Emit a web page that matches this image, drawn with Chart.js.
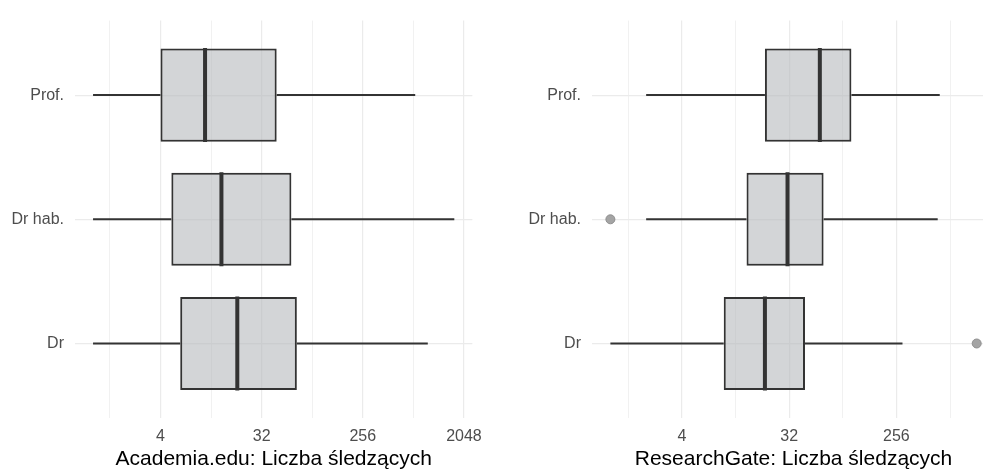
<!DOCTYPE html>
<html>
<head>
<meta charset="utf-8">
<script src="https://cdn.jsdelivr.net/npm/chart.js@4/dist/chart.umd.min.js"></script>
<style>
  html, body { margin: 0; padding: 0; background: #fff; overflow: hidden; }
  #wrap { position: relative; width: 983px; height: 471px; overflow: hidden; }
  .panel { position: absolute; top: 0; height: 471px; }
  #left { left: 0; width: 491px; }
  #right { left: 491px; width: 504px; }
</style>
</head>
<body>
<div id="wrap">
  <div class="panel" id="left"><canvas id="acChart"></canvas></div>
  <div class="panel" id="right"><canvas id="rgChart"></canvas></div>
</div>
<script>
// y positions: 0 = Dr (bottom), 1 = Dr hab., 2 = Prof. (top)
const categories = ["Dr", "Dr hab.", "Prof."];

const majorTicks = [4, 32, 256, 2048];
const minorTicks = [1.414, 11.31, 90.51, 724.1];

// Academia.edu
const acMin = [1, 1, 1];
const acQ1 = [6, 5, 4];
const acMedian = [19.4, 14, 10];
const acQ3 = [66, 59, 43.6];
const acMax = [974, 1680, 752];
const acOutlierX = [];
const acOutlierY = [];

// ResearchGate
const rgMin = [1, 2, 2];
const rgQ1 = [9, 14, 20];
const rgMedian = [20, 31, 58];
const rgQ3 = [43.5, 62.4, 107];
const rgMax = [288, 570, 593];
const rgOutlierX = [1214, 1];
const rgOutlierY = [0, 1];

const FONT = "'Liberation Sans', Arial, Helvetica, sans-serif";
const GRID = "#ebebeb";
const INK = "#333333";

function makePanel(canvasId, p) {
  const boxes = categories.map((_, i) => ({ x: [p.q1[i], p.q3[i]], y: i }));
  const medians = categories.map((_, i) => ({ x: p.median[i], y: i }));
  const whiskers = [];
  categories.forEach((_, i) => {
    whiskers.push({ x: p.min[i], y: i }, { x: p.q1[i], y: i }, { x: null, y: i });
    whiskers.push({ x: p.q3[i], y: i }, { x: p.max[i], y: i }, { x: null, y: i });
  });
  const outliers = p.outX.map((v, i) => ({ x: v, y: p.outY[i] }));

  return new Chart(document.getElementById(canvasId), {
    type: "bar",
    data: {
      datasets: [
        {
          type: "line",
          data: whiskers,
          borderColor: INK,
          borderWidth: 2,
          pointRadius: 0,
          spanGaps: false,
          order: 3,
        },
        {
          type: "bar",
          data: boxes,
          backgroundColor: "rgba(180, 182, 186, 0.58)",
          borderColor: INK,
          borderWidth: 2,
          borderSkipped: false,
          barPercentage: 0.75,
          categoryPercentage: 1,
          order: 2,
        },
        {
          type: "scatter",
          data: medians,
          pointStyle: "line",
          rotation: 90,
          pointRadius: 47,
          borderColor: INK,
          borderWidth: 4,
          order: 1,
        },
        {
          type: "scatter",
          data: outliers,
          pointRadius: 4.5,
          backgroundColor: "#a4a4a4",
          borderColor: "#8f8f8f",
          borderWidth: 1,
          order: 0,
        },
      ],
    },
    options: {
      indexAxis: "y",
      responsive: true,
      maintainAspectRatio: false,
      animation: false,
      layout: { autoPadding: false, padding: { top: 17, right: p.padRight, bottom: 0, left: 0 } },
      plugins: { legend: { display: false }, tooltip: { enabled: false } },
      scales: {
        x: {
          type: "logarithmic",
          min: p.xMin,
          max: p.xMax,
          afterBuildTicks: (scale) => {
            scale.ticks = [...minorTicks, ...majorTicks]
              .filter((v) => v >= scale.min && v <= scale.max)
              .sort((a, b) => a - b)
              .map((v) => ({ value: v }));
          },
          afterFit: (scale) => { scale.height = 53; },
          border: { display: false },
          grid: {
            color: GRID,
            drawTicks: false,
            lineWidth: (ctx) => (ctx.tick && majorTicks.includes(ctx.tick.value) ? 1.2 : 0.7),
          },
          ticks: {
            autoSkip: false,
            maxRotation: 0,
            padding: 9,
            color: "#4d4d4d",
            font: { family: FONT, size: 16 },
            callback: (v) => (majorTicks.includes(v) ? String(v) : ""),
          },
          title: {
            display: true,
            text: p.title,
            color: "#000000",
            font: { family: FONT, size: 21, lineHeight: 1 },
            padding: { top: 0, bottom: 1 },
          },
        },
        y: {
          type: "linear",
          min: -0.6,
          max: 2.6,
          offset: false,
          afterBuildTicks: (scale) => {
            scale.ticks = categories.map((_, i) => ({ value: i }));
          },
          afterFit: (scale) => { scale.width = p.yWidth; },
          border: { display: false },
          grid: { color: GRID, lineWidth: 1.2, drawTicks: false, offset: false },
          ticks: {
            padding: 11,
            color: "#4d4d4d",
            font: { family: FONT, size: 16 },
            callback: (v) => categories[v],
          },
        },
      },
    },
  });
}

makePanel("acChart", {
  min: acMin, q1: acQ1, median: acMedian, q3: acQ3, max: acMax,
  outX: acOutlierX, outY: acOutlierY,
  xMin: 0.69, xMax: 2435, yWidth: 75, padRight: 12,
  title: "Academia.edu: Liczba śledzących",
});

makePanel("rgChart", {
  min: rgMin, q1: rgQ1, median: rgMedian, q3: rgQ3, max: rgMax,
  outX: rgOutlierX, outY: rgOutlierY,
  xMin: 0.701, xMax: 1731, yWidth: 101, padRight: 0,
  title: "ResearchGate: Liczba śledzących",
});
</script>
</body>
</html>
